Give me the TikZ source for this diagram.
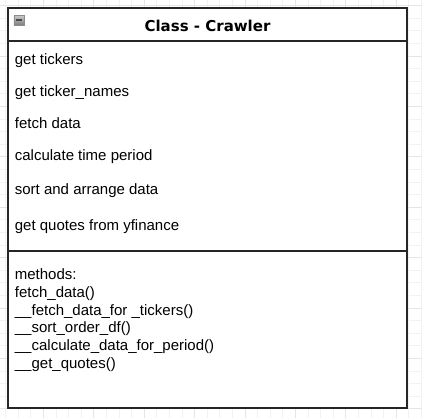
\documentclass[tikz,border=0pt]{standalone}
\usepackage{fontspec}
\setmainfont{Liberation Sans}
\newfontfamily\hdrfont{DejaVu Sans}
\begin{document}
\begin{tikzpicture}[x=1pt,y=-1pt,
  compbox/.style={draw=black!85,line width=1.2pt,inner sep=0pt,outer sep=0pt,minimum width=399pt},
  itemtext/.style={anchor=base west,inner sep=0pt,font=\fontsize{15}{18}\selectfont},
  gridminor/.style={draw=black!5,line width=0.6pt},
  gridmajor/.style={draw=black!10,line width=0.6pt}]
\useasboundingbox (0,0) rectangle (422,418);
\fill[white] (0,0) rectangle (422,418);
% background grid
\foreach \k in {0,...,33}{
  \pgfmathsetmacro\p{5.5+12.6*\k}
  \draw[gridminor] (\p,0) -- (\p,418);
  \draw[gridminor] (0,\p) -- (422,\p);
}
\foreach \k in {0,...,8}{
  \pgfmathsetmacro\p{43.3+50.4*\k}
  \draw[gridmajor] (\p,0) -- (\p,418);
  \pgfmathsetmacro\q{5.5+50.4*\k}
  \draw[gridmajor] (0,\q) -- (422,\q);
}
% class box
\node[compbox,fill=white,minimum height=33pt,anchor=north west] (hdr) at (8,8) {};
\node[compbox,fill=white,minimum height=210pt,anchor=north west] (attrs) at (hdr.south west) {};
\node[compbox,fill=white,minimum height=157pt,anchor=north west] (meths) at (attrs.south west) {};
% header
\node[anchor=base,inner sep=0pt,font=\hdrfont\bfseries\fontsize{15}{18}\selectfont] (title) at (207.5,31.7) {Class - Crawler};
\node[draw=black!45,top color=black!20,bottom color=black!50,minimum size=10pt,inner sep=0pt] (icon) at (18.8,20) {};
\draw[line width=1.8pt,black!70] ([xshift=2pt]icon.west) -- ([xshift=-2pt]icon.east);
% attributes
\node[itemtext] (a1) at (14.7,64) {get tickers};
\node[itemtext] (a2) at (14.7,96.5) {get ticker\_names};
\node[itemtext] (a3) at (14.7,128.5) {fetch data};
\node[itemtext] (a4) at (14.7,160.7) {calculate time period};
\node[itemtext] (a5) at (14.7,194) {sort and arrange data};
\node[itemtext] (a6) at (14.7,230) {get quotes from yfinance};
% methods
\node[itemtext] (m0) at (14.7,279.5) {methods:};
\node[itemtext] (m1) at (14.7,297.3) {fetch\_data()};
\node[itemtext] (m2) at (14.7,315) {\_\_fetch\_data\_for \_tickers()};
\node[itemtext] (m3) at (14.7,332.8) {\_\_sort\_order\_df()};
\node[itemtext] (m4) at (14.7,350.6) {\_\_calculate\_data\_for\_period()};
\node[itemtext] (m5) at (14.7,368.4) {\_\_get\_quotes()};
\end{tikzpicture}
\end{document}
